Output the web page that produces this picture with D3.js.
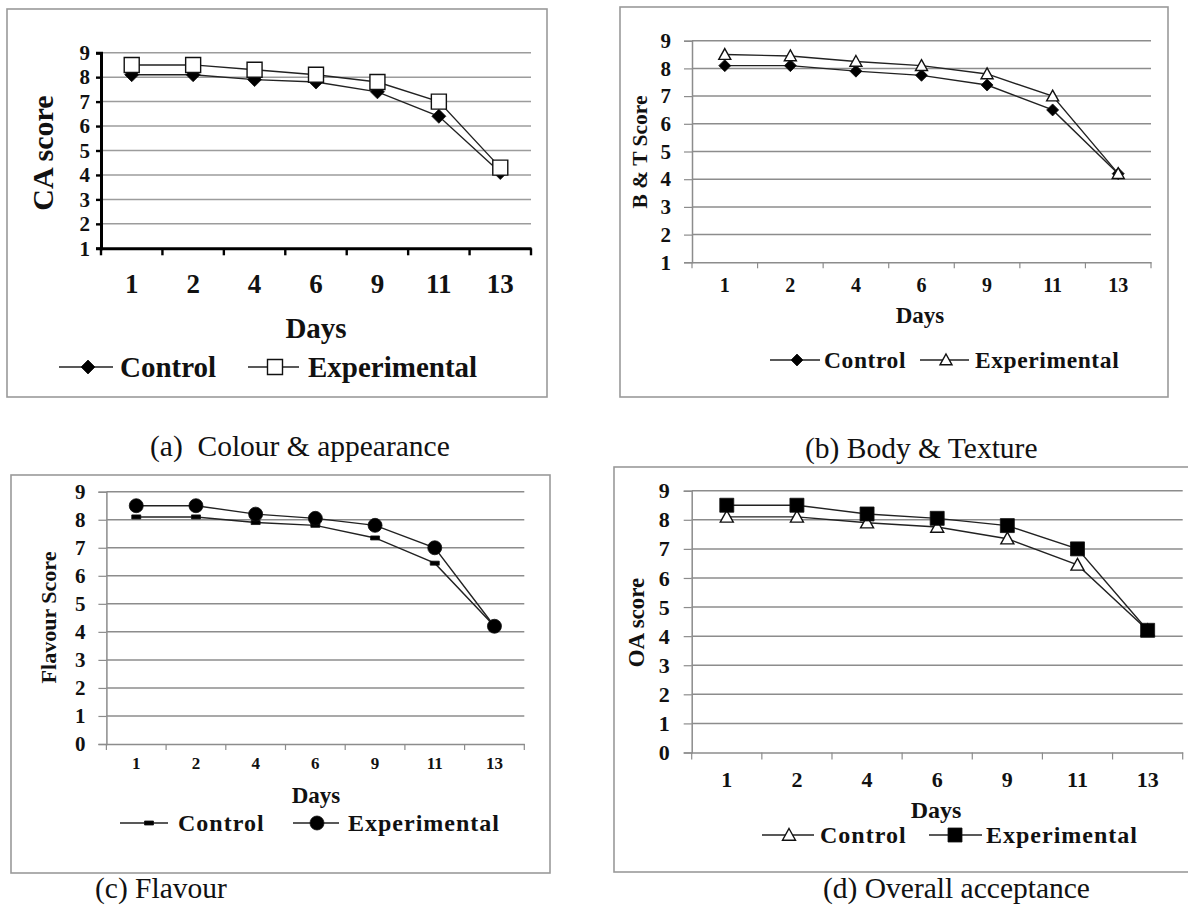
<!DOCTYPE html>
<html>
<head>
<meta charset="utf-8">
<script src="https://cdn.jsdelivr.net/npm/d3@7"></script>
<style>
  html, body { margin: 0; padding: 0; background: #fff; }
  svg { display: block; }
  text { font-family: "Liberation Serif", "Times New Roman", serif; fill: #111; }
</style>
</head>
<body>
<svg id="chart" width="1188" height="909"></svg>
<script>
// ---- data ----
const days = ["1", "2", "4", "6", "9", "11", "13"];
const seriesNames = ["Control", "Experimental"];

const caControl      = [8.1, 8.1, 7.9, 7.8, 7.4, 6.4, 4.1];
const caExperimental = [8.5, 8.5, 8.3, 8.1, 7.8, 7.0, 4.3];

const btControl      = [8.1, 8.1, 7.9, 7.75, 7.4, 6.5, 4.2];
const btExperimental = [8.5, 8.45, 8.25, 8.1, 7.8, 7.0, 4.2];

const flControl      = [8.1, 8.1, 7.9, 7.8, 7.35, 6.45, 4.2];
const flExperimental = [8.5, 8.5, 8.2, 8.05, 7.8, 7.0, 4.2];

const oaControl      = [8.1, 8.1, 7.9, 7.75, 7.35, 6.45, 4.2];
const oaExperimental = [8.5, 8.5, 8.2, 8.05, 7.8, 7.0, 4.2];

const yTicksA = [1, 2, 3, 4, 5, 6, 7, 8, 9];
const yTicksB = [1, 2, 3, 4, 5, 6, 7, 8, 9];
const yTicksC = [0, 1, 2, 3, 4, 5, 6, 7, 8, 9];
const yTicksD = [0, 1, 2, 3, 4, 5, 6, 7, 8, 9];

const yLabels = ["CA score", "B & T Score", "Flavour Score", "OA score"];
const captions = ["(a)  Colour & appearance", "(b) Body & Texture", "(c) Flavour", "(d) Overall acceptance"];

// ---- drawing ----
const FONT = '"Liberation Serif", "Times New Roman", serif';
const svg = d3.select("#chart");

function markerPath(shape, s) {
  const h = s / 2;
  if (shape === "diamond") return `M0,${-h}L${h},0L0,${h}L${-h},0Z`;
  if (shape === "square") return `M${-h},${-h}H${h}V${h}H${-h}Z`;
  if (shape === "triangle") return `M0,${-h}L${h},${h * 0.8}L${-h},${h * 0.8}Z`;
  if (shape === "dash") return `M${-h},-2H${h}V2H${-h}Z`;
  if (shape === "circle") return `M${h},0A${h},${h} 0 1,1 ${-h},0A${h},${h} 0 1,1 ${h},0Z`;
  return "";
}

function drawMarker(g, shape, fill, size, x, y) {
  g.append("path")
    .attr("d", markerPath(shape, size))
    .attr("transform", `translate(${x},${y})`)
    .attr("fill", fill)
    .attr("stroke", "#111")
    .attr("stroke-width", fill === "#fff" ? 1.4 : 0.8);
}

function drawPanel(cfg) {
  const g = svg.append("g");
  // frame
  g.append("rect")
    .attr("x", cfg.frame[0]).attr("y", cfg.frame[1])
    .attr("width", cfg.frame[2] - cfg.frame[0]).attr("height", cfg.frame[3] - cfg.frame[1])
    .attr("fill", "#fff").attr("stroke", "#9a9a9a").attr("stroke-width", 1.6);

  const x = d3.scaleBand().domain(days).range([cfg.x0, cfg.x1]).padding(0);
  const y = d3.scaleLinear().domain([cfg.yTicks[0], 9]).range([cfg.yBottom, cfg.yTop]);

  // gridlines
  g.append("g").selectAll("line").data(cfg.yTicks.filter(t => t !== cfg.yTicks[0]))
    .join("line")
    .attr("x1", cfg.x0).attr("x2", cfg.x1)
    .attr("y1", d => y(d)).attr("y2", d => y(d))
    .attr("stroke", cfg.gridColor).attr("stroke-width", 1.5);

  // y axis
  const yAxis = d3.axisLeft(y).tickValues(cfg.yTicks).tickSize(cfg.yTickLen).tickPadding(cfg.yPad).tickFormat(d3.format("d"));
  const ya = g.append("g").attr("transform", `translate(${cfg.x0},0)`).call(yAxis);
  ya.attr("font-family", FONT);
  ya.select(".domain").attr("stroke", cfg.axisColor).attr("stroke-width", cfg.axisWidth);
  ya.selectAll(".tick line").attr("stroke", cfg.axisColor).attr("stroke-width", cfg.axisWidth * 0.8);
  ya.selectAll(".tick text")
    .attr("font-size", cfg.yFont).attr("font-weight", "bold")
    .attr("font-family", FONT).attr("fill", "#111");

  // x axis line + boundary ticks
  const xa = g.append("g").attr("transform", `translate(0,${cfg.yBottom})`)
    .call(d3.axisBottom(x).tickSize(0).tickPadding(cfg.xPad));
  xa.attr("font-family", FONT);
  xa.select(".domain").attr("stroke", cfg.axisColor).attr("stroke-width", cfg.axisWidth);
  xa.selectAll(".tick text")
    .attr("font-size", cfg.xFont).attr("font-weight", "bold")
    .attr("font-family", FONT).attr("fill", "#111");
  const bounds = days.map(d => x(d)).concat([cfg.x1]);
  g.append("g").selectAll("line").data(bounds).join("line")
    .attr("x1", d => d).attr("x2", d => d)
    .attr("y1", cfg.yBottom).attr("y2", cfg.yBottom + cfg.xTickLen)
    .attr("stroke", cfg.axisColor).attr("stroke-width", cfg.axisWidth * 0.8);

  // lines
  const line = d3.line().x((d, i) => x(days[i]) + x.bandwidth() / 2).y(d => y(d));
  cfg.series.forEach(s => {
    g.append("path").datum(s.values).attr("d", line)
      .attr("fill", "none").attr("stroke", "#222").attr("stroke-width", 1.4);
  });
  cfg.series.forEach(s => {
    s.values.forEach((v, i) => drawMarker(g, s.shape, s.fill, s.size, x(days[i]) + x.bandwidth() / 2, y(v)));
  });

  // y label
  g.append("text")
    .attr("transform", `translate(${cfg.yLabelX},${cfg.yLabelY}) rotate(-90)`)
    .attr("text-anchor", "middle").attr("dominant-baseline", "central")
    .attr("font-family", FONT)
    .attr("font-size", cfg.yLabelFont).attr("font-weight", "bold")
    .text(cfg.yLabel);

  // x label
  g.append("text")
    .attr("x", cfg.daysX).attr("y", cfg.daysY)
    .attr("text-anchor", "middle")
    .attr("font-family", FONT)
    .attr("font-size", cfg.daysFont).attr("font-weight", "bold")
    .text("Days");

  // legend
  cfg.series.forEach((s, i) => {
    const L = cfg.legend[i];
    g.append("line").attr("x1", L.l0).attr("x2", L.l1).attr("y1", cfg.legendY).attr("y2", cfg.legendY)
      .attr("stroke", "#222").attr("stroke-width", 1.4);
    drawMarker(g, s.shape, s.fill, s.size, L.m, cfg.legendY);
    g.append("text").attr("x", L.t).attr("y", cfg.legendY)
      .attr("dominant-baseline", "central")
      .attr("font-family", FONT)
      .attr("font-size", cfg.legendFont).attr("font-weight", "bold")
      .attr("letter-spacing", cfg.legendSpacing)
      .text(seriesNames[i]);
  });

  // caption
  svg.append("text").attr("x", cfg.capX).attr("y", cfg.capY)
    .attr("font-family", FONT)
    .attr("font-size", 29.5).attr("fill", "#000")
    .style("white-space", "pre").attr("xml:space", "preserve")
    .text(cfg.caption);
}

// (a) Colour & appearance
drawPanel({
  frame: [7, 9, 547, 397],
  x0: 101, x1: 531, yTop: 52.7, yBottom: 248.3, yTicks: yTicksA,
  gridColor: "#9c9c9c", axisColor: "#000", axisWidth: 3,
  yTickLen: 5, yPad: 6, yFont: 21, xTickLen: 7, xPad: 26, xFont: 27,
  yLabel: yLabels[0], yLabelX: 42, yLabelY: 153, yLabelFont: 30,
  daysX: 316, daysY: 338, daysFont: 29,
  legendY: 367, legendFont: 29, legendSpacing: 0,
  legend: [{l0: 59, l1: 113, m: 88, t: 120}, {l0: 248, l1: 299, m: 275, t: 308}],
  series: [
    {values: caControl, shape: "diamond", fill: "#000", size: 14},
    {values: caExperimental, shape: "square", fill: "#fff", size: 15}
  ],
  caption: captions[0], capX: 150, capY: 456
});

// (b) Body & Texture
drawPanel({
  frame: [620, 7, 1168, 397],
  x0: 692, x1: 1151, yTop: 40.7, yBottom: 262.3, yTicks: yTicksB,
  gridColor: "#8c8c8c", axisColor: "#8c8c8c", axisWidth: 1.5,
  yTickLen: 8, yPad: 13, yFont: 21, xTickLen: 6, xPad: 16, xFont: 20,
  yLabel: yLabels[1], yLabelX: 640, yLabelY: 152, yLabelFont: 21.5,
  daysX: 920, daysY: 323, daysFont: 23,
  legendY: 360, legendFont: 23.5, legendSpacing: 0.6,
  legend: [{l0: 770, l1: 820, m: 797, t: 824}, {l0: 920, l1: 969, m: 946, t: 975}],
  series: [
    {values: btControl, shape: "diamond", fill: "#000", size: 12},
    {values: btExperimental, shape: "triangle", fill: "#fff", size: 12}
  ],
  caption: captions[1], capX: 805, capY: 458
});

// (c) Flavour
drawPanel({
  frame: [11, 475, 550, 873],
  x0: 106.4, x1: 524.3, yTop: 491.7, yBottom: 744, yTicks: yTicksC,
  gridColor: "#8c8c8c", axisColor: "#8c8c8c", axisWidth: 1.5,
  yTickLen: 8, yPad: 13, yFont: 21, xTickLen: 6, xPad: 13, xFont: 17,
  yLabel: yLabels[2], yLabelX: 48, yLabelY: 617.5, yLabelFont: 22,
  daysX: 316, daysY: 803, daysFont: 23,
  legendY: 823, legendFont: 24, legendSpacing: 1,
  legend: [{l0: 120, l1: 168, m: 149, t: 178}, {l0: 293, l1: 339, m: 317, t: 348}],
  series: [
    {values: flControl, shape: "dash", fill: "#000", size: 9},
    {values: flExperimental, shape: "circle", fill: "#000", size: 14}
  ],
  caption: captions[2], capX: 95, capY: 898
});

// (d) Overall acceptance
drawPanel({
  frame: [614, 467, 1192, 872],
  x0: 691.7, x1: 1182.7, yTop: 490.7, yBottom: 752.5, yTicks: yTicksD,
  gridColor: "#8c8c8c", axisColor: "#8c8c8c", axisWidth: 1.5,
  yTickLen: 8, yPad: 14, yFont: 22, xTickLen: 7, xPad: 19, xFont: 22,
  yLabel: yLabels[3], yLabelX: 636, yLabelY: 622.5, yLabelFont: 23,
  daysX: 936, daysY: 818, daysFont: 24,
  legendY: 835, legendFont: 24, legendSpacing: 1,
  legend: [{l0: 762, l1: 814, m: 789, t: 820}, {l0: 929, l1: 982, m: 955, t: 986}],
  series: [
    {values: oaControl, shape: "triangle", fill: "#fff", size: 13},
    {values: oaExperimental, shape: "square", fill: "#000", size: 14}
  ],
  caption: captions[3], capX: 823, capY: 898
});
</script>
</body>
</html>
